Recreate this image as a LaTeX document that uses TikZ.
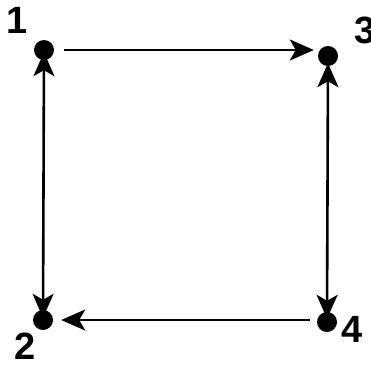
\documentclass[tikz,border=0pt]{standalone}
\usepackage{fontspec}
\setmainfont{Liberation Sans}
\usetikzlibrary{arrows.meta}
\begin{document}
\begin{tikzpicture}[x=1pt,y=-1pt,
  dot/.style={circle,fill=black,inner sep=0pt,minimum size=20pt},
  lbl/.style={inner sep=0pt,font=\fontsize{38}{44}\selectfont\bfseries},
  tip/.tip={Stealth[length=24pt,width=21pt,inset=6pt]},
  arr/.style={line width=2.6pt,-tip},
  darr/.style={line width=2.6pt,tip-tip}]
\useasboundingbox (0,0) rectangle (371,364);
\node[dot] (n1) at (44,50) {};
\node[dot] (n3) at (328,56) {};
\node[dot] (n2) at (43,320) {};
\node[dot] (n4) at (327,322) {};
\node[lbl] (l1) at (17,20) {1};
\node[lbl] (l3) at (365,30) {3};
\node[lbl] (l2) at (25,346) {2};
\node[lbl] (l4) at (352,329) {4};
\draw[arr] ([xshift=10pt]n1.east) -- ([xshift=-4pt]n3.west |- n1.east);
\draw[darr] ([yshift=8pt]n1.south) -- ([yshift=-8pt]n2.north);
\draw[darr] ([yshift=3pt]n3.south) -- ([yshift=-7pt]n4.north);
\draw[arr] ([xshift=-7pt]n4.west |- n2.east) -- ([xshift=8pt]n2.east);
\end{tikzpicture}
\end{document}
